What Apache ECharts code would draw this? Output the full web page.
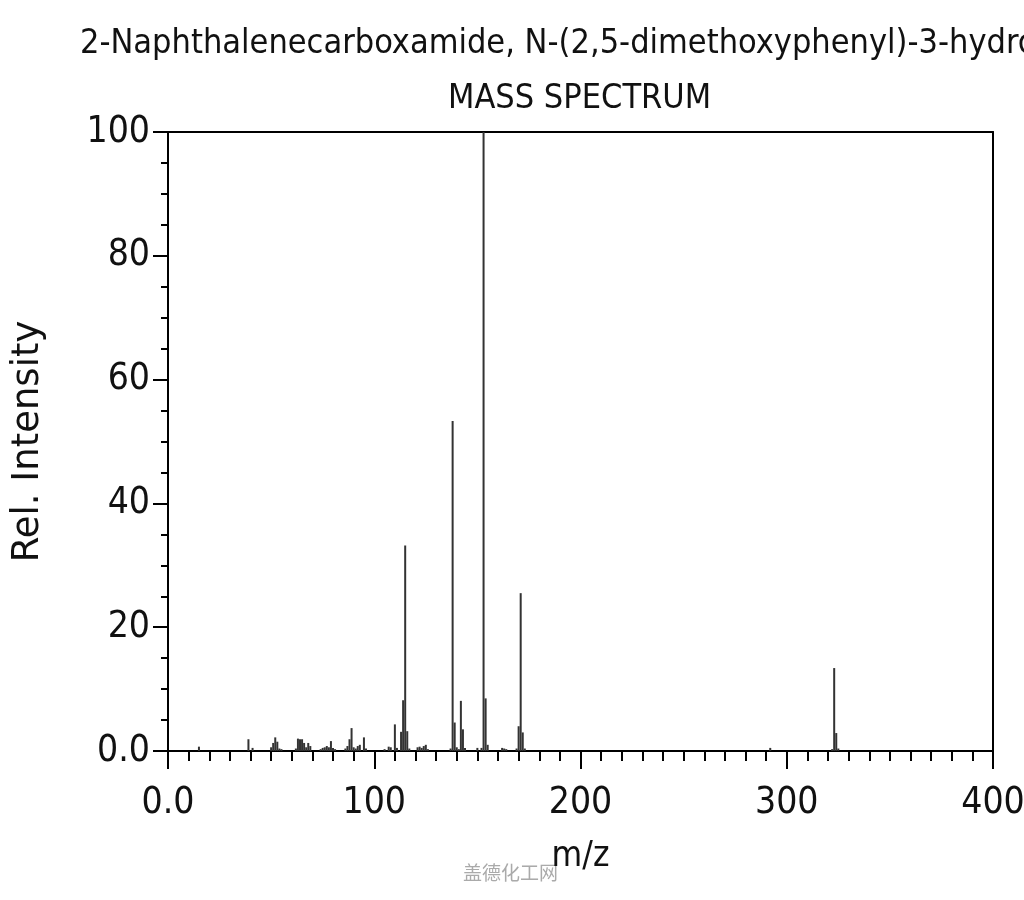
<!DOCTYPE html>
<html>
<head>
<meta charset="utf-8">
<script src="https://cdn.jsdelivr.net/npm/echarts@6/dist/echarts.min.js"></script>
<style>
html,body{margin:0;padding:0;background:#fff;}
#chart{width:1024px;height:900px;}
</style>
</head>
<body>
<div id="chart"></div>
<script>
var titleText = '2-Naphthalenecarboxamide, N-(2,5-dimethoxyphenyl)-3-hydroxy-';
var subtitleText = 'MASS SPECTRUM';
var xAxisName = 'm/z';
var yAxisName = 'Rel. Intensity';
var watermarkText = '盖德化工网';
var xTicks = [0, 100, 200, 300, 400];
var yTicks = [0, 20, 40, 60, 80, 100];

var mzValues = [15, 39, 41, 50, 51, 52, 53, 54, 55, 62, 63, 64, 65, 66, 67, 68, 69,
  74, 75, 76, 77, 78, 79, 80, 81, 86, 87, 88, 89, 90, 91, 92, 93, 95, 96,
  105, 107, 108, 110, 111, 113, 114, 115, 116, 117, 121, 122, 123, 124, 125, 126,
  137, 138, 139, 140, 141, 142, 143, 144, 150, 152, 153, 154, 155,
  162, 163, 164, 169, 170, 171, 172, 173, 292, 322, 323, 324, 325];
var intensityValues = [0.7, 1.9, 0.5, 0.6, 1.3, 2.2, 1.5, 0.4, 0.3, 0.4, 2.0, 1.9, 1.9, 1.3, 0.6, 1.3, 0.8,
  0.3, 0.5, 0.6, 0.8, 0.6, 1.6, 0.5, 0.3, 0.4, 0.8, 1.9, 3.7, 0.6, 0.4, 0.8, 1.0, 2.2, 0.4,
  0.3, 0.7, 0.6, 4.3, 0.5, 3.1, 8.2, 33.2, 3.2, 0.4, 0.6, 0.7, 0.5, 0.8, 1.0, 0.3,
  0.4, 53.3, 4.6, 0.6, 0.3, 8.1, 3.5, 0.5, 0.5, 0.5, 100, 8.5, 1.0,
  0.5, 0.4, 0.3, 0.4, 4.0, 25.5, 3.0, 0.4, 0.5, 0.3, 13.4, 2.9, 0.4];

var seriesData = mzValues.map(function (m, i) { return [m, intensityValues[i]]; });

var chart = echarts.init(document.getElementById('chart'), null, {renderer: 'canvas'});
var font = 'DejaVu Sans Condensed';
var tickFmt = function (v) { return v === 0 ? '0.0' : String(v); };
chart.setOption({
  animation: false,
  backgroundColor: '#ffffff',
  grid: {left: 168, right: 31, top: 132, bottom: 149, containLabel: false, outerBoundsMode: 'none'},
  graphic: [
    {type: 'text', left: 80, top: 27, style: {text: titleText, font: '34px "DejaVu Sans Condensed"', fill: '#111'}},
    {type: 'text', left: 448, top: 82, style: {text: subtitleText, font: '34px "DejaVu Sans Condensed"', fill: '#111'}},
    {type: 'text', left: 463, top: 863, style: {text: watermarkText, font: '19px "Noto Sans CJK SC"', fill: '#aaaaaa'}}
  ],
  xAxis: [{
    type: 'value', min: xTicks[0], max: xTicks[xTicks.length - 1], interval: 100,
    name: xAxisName, nameLocation: 'middle', nameGap: 88,
    nameTextStyle: {fontFamily: font, fontSize: 35, color: '#111'},
    axisLine: {show: true, onZero: false, lineStyle: {color: '#000', width: 2}},
    axisTick: {show: true, inside: false, length: 18, lineStyle: {color: '#000', width: 2}},
    minorTick: {show: true, splitNumber: 10, length: 10, lineStyle: {color: '#000', width: 2}},
    splitLine: {show: false},
    axisLabel: {margin: 34, fontFamily: font, fontSize: 37, color: '#111', formatter: tickFmt}
  }, {
    type: 'value', position: 'top', min: 0, max: 400,
    axisLine: {show: true, onZero: false, lineStyle: {color: '#000', width: 2}},
    axisTick: {show: false}, axisLabel: {show: false}, splitLine: {show: false}
  }],
  yAxis: [{
    type: 'value', min: yTicks[0], max: yTicks[yTicks.length - 1], interval: 20,
    name: yAxisName, nameLocation: 'middle', nameGap: 121, nameRotate: 90,
    nameTextStyle: {fontFamily: 'DejaVu Sans', fontSize: 37, color: '#111'},
    axisLine: {show: true, onZero: false, lineStyle: {color: '#000', width: 2}},
    axisTick: {show: true, inside: false, length: 15, lineStyle: {color: '#000', width: 2}},
    minorTick: {show: true, splitNumber: 4, length: 7, lineStyle: {color: '#000', width: 2}},
    splitLine: {show: false},
    axisLabel: {margin: 18, fontFamily: font, fontSize: 37, color: '#111', formatter: tickFmt}
  }, {
    type: 'value', position: 'right', min: 0, max: 100,
    axisLine: {show: true, onZero: false, lineStyle: {color: '#000', width: 2}},
    axisTick: {show: false}, axisLabel: {show: false}, splitLine: {show: false}
  }],
  series: [{
    type: 'bar', xAxisIndex: 0, yAxisIndex: 0,
    data: seriesData, barWidth: 2,
    itemStyle: {color: '#333333'},
    silent: true
  }]
});
</script>
</body>
</html>
